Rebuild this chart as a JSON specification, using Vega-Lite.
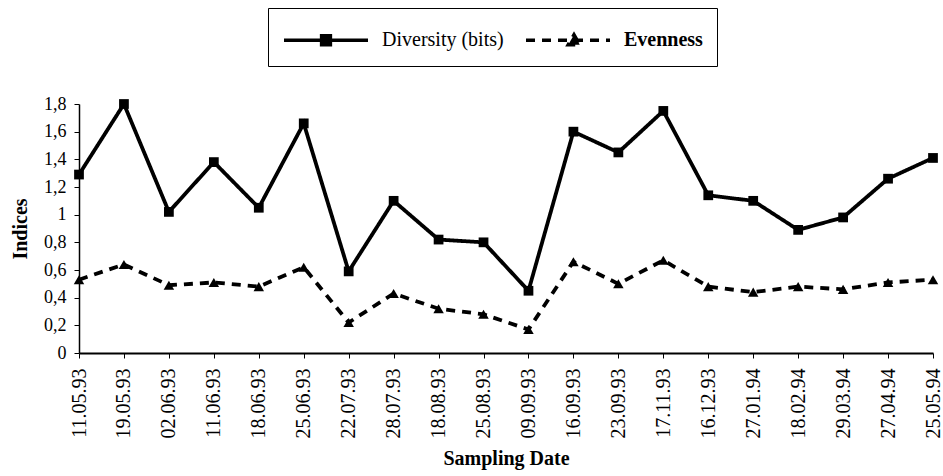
{
  "$schema": "https://vega.github.io/schema/vega-lite/v6.json",
  "width": 854,
  "height": 249,
  "autosize": "none",
  "padding": {"left": 79, "top": 104, "right": 10, "bottom": 123},
  "background": "white",
  "config": {
    "view": {"stroke": null},
    "font": "Liberation Serif",
    "axis": {
      "domainColor": "black",
      "tickColor": "black",
      "labelColor": "black",
      "titleColor": "black",
      "grid": false,
      "labelFont": "Liberation Serif",
      "titleFont": "Liberation Serif"
    }
  },
  "data": {
    "values": [
      {"date": "11.05.93", "series": "Diversity (bits)", "value": 1.29},
      {"date": "19.05.93", "series": "Diversity (bits)", "value": 1.80},
      {"date": "02.06.93", "series": "Diversity (bits)", "value": 1.02},
      {"date": "11.06.93", "series": "Diversity (bits)", "value": 1.38},
      {"date": "18.06.93", "series": "Diversity (bits)", "value": 1.05},
      {"date": "25.06.93", "series": "Diversity (bits)", "value": 1.66},
      {"date": "22.07.93", "series": "Diversity (bits)", "value": 0.59},
      {"date": "28.07.93", "series": "Diversity (bits)", "value": 1.10},
      {"date": "18.08.93", "series": "Diversity (bits)", "value": 0.82},
      {"date": "25.08.93", "series": "Diversity (bits)", "value": 0.80},
      {"date": "09.09.93", "series": "Diversity (bits)", "value": 0.45},
      {"date": "16.09.93", "series": "Diversity (bits)", "value": 1.60},
      {"date": "23.09.93", "series": "Diversity (bits)", "value": 1.45},
      {"date": "17.11.93", "series": "Diversity (bits)", "value": 1.75},
      {"date": "16.12.93", "series": "Diversity (bits)", "value": 1.14},
      {"date": "27.01.94", "series": "Diversity (bits)", "value": 1.10},
      {"date": "18.02.94", "series": "Diversity (bits)", "value": 0.89},
      {"date": "29.03.94", "series": "Diversity (bits)", "value": 0.98},
      {"date": "27.04.94", "series": "Diversity (bits)", "value": 1.26},
      {"date": "25.05.94", "series": "Diversity (bits)", "value": 1.41},
      {"date": "11.05.93", "series": "Evenness", "value": 0.53},
      {"date": "19.05.93", "series": "Evenness", "value": 0.64},
      {"date": "02.06.93", "series": "Evenness", "value": 0.49},
      {"date": "11.06.93", "series": "Evenness", "value": 0.51},
      {"date": "18.06.93", "series": "Evenness", "value": 0.48},
      {"date": "25.06.93", "series": "Evenness", "value": 0.62},
      {"date": "22.07.93", "series": "Evenness", "value": 0.22},
      {"date": "28.07.93", "series": "Evenness", "value": 0.43},
      {"date": "18.08.93", "series": "Evenness", "value": 0.32},
      {"date": "25.08.93", "series": "Evenness", "value": 0.28},
      {"date": "09.09.93", "series": "Evenness", "value": 0.17},
      {"date": "16.09.93", "series": "Evenness", "value": 0.66},
      {"date": "23.09.93", "series": "Evenness", "value": 0.50},
      {"date": "17.11.93", "series": "Evenness", "value": 0.67},
      {"date": "16.12.93", "series": "Evenness", "value": 0.48},
      {"date": "27.01.94", "series": "Evenness", "value": 0.44},
      {"date": "18.02.94", "series": "Evenness", "value": 0.48},
      {"date": "29.03.94", "series": "Evenness", "value": 0.46},
      {"date": "27.04.94", "series": "Evenness", "value": 0.51},
      {"date": "25.05.94", "series": "Evenness", "value": 0.53}
    ]
  },
  "encoding": {
    "x": {
      "field": "date",
      "type": "ordinal",
      "sort": null,
      "scale": {"type": "point", "padding": 0},
      "axis": {
        "labelAngle": 270,
        "labelFontSize": 20,
        "title": "Sampling Date",
        "titleFontSize": 20,
        "titleFontWeight": "bold",
        "tickSize": 5,
        "labelPadding": 10,
        "titlePadding": 10,
        "domainWidth": 2
      }
    },
    "y": {
      "field": "value",
      "type": "quantitative",
      "scale": {"domain": [0, 1.8], "nice": false, "zero": true},
      "axis": {
        "values": [0, 0.2, 0.4, 0.6, 0.8, 1, 1.2, 1.4, 1.6, 1.8],
        "labelExpr": "replace(format(datum.value, '~g'), '.', ',')",
        "title": "Indices",
        "titleFontSize": 20,
        "titleFontWeight": "bold",
        "labelFontSize": 18,
        "tickSize": 5,
        "labelPadding": 8,
        "titlePadding": 13,
        "domainWidth": 1.5
      }
    }
  },
  "layer": [
    {
      "mark": {"type": "line", "color": "black", "strokeWidth": 3.8},
      "encoding": {
        "strokeDash": {
          "field": "series",
          "type": "nominal",
          "scale": {"domain": ["Diversity (bits)", "Evenness"], "range": [[1, 0], [9, 7]]},
          "legend": {
            "title": null,
            "orient": "none",
            "legendX": 189,
            "legendY": -96,
            "direction": "horizontal",
            "strokeColor": "black",
            "padding": 14,
            "symbolSize": 1024,
            "symbolStrokeWidth": 3.5,
            "symbolStrokeColor": "black",
            "symbolFillColor": "black",
            "labelFont": "Liberation Serif",
            "labelFontSize": 20,
            "labelColor": "black",
            "labelOffset": 64,
            "columnPadding": 15,
            "encode": {
              "symbols": {
                "update": {
                  "shape": {"signal": "datum.value === 'Diversity (bits)' ? 'M-1,0H4.25M1.35,-0.28H1.9V0.28H1.35Z' : 'M-1,0H4.25M2.0,-0.34L2.36,0.28H1.64Z'"},
                  "fill": {"value": "black"},
                  "stroke": {"value": "black"},
                  "strokeWidth": {"value": 3.5}
                }
              },
              "labels": {
                "update": {
                  "fontWeight": {"signal": "datum.value === 'Evenness' ? 'bold' : 'normal'"}
                }
              }
            }
          }
        }
      }
    },
    {
      "transform": [{"filter": "datum.series === 'Diversity (bits)'"}],
      "mark": {"type": "point", "shape": "square", "filled": true, "color": "black", "opacity": 1, "size": 95}
    },
    {
      "transform": [{"filter": "datum.series === 'Evenness'"}],
      "mark": {"type": "point", "shape": "triangle-up", "filled": true, "color": "black", "opacity": 1, "size": 110}
    }
  ]
}
